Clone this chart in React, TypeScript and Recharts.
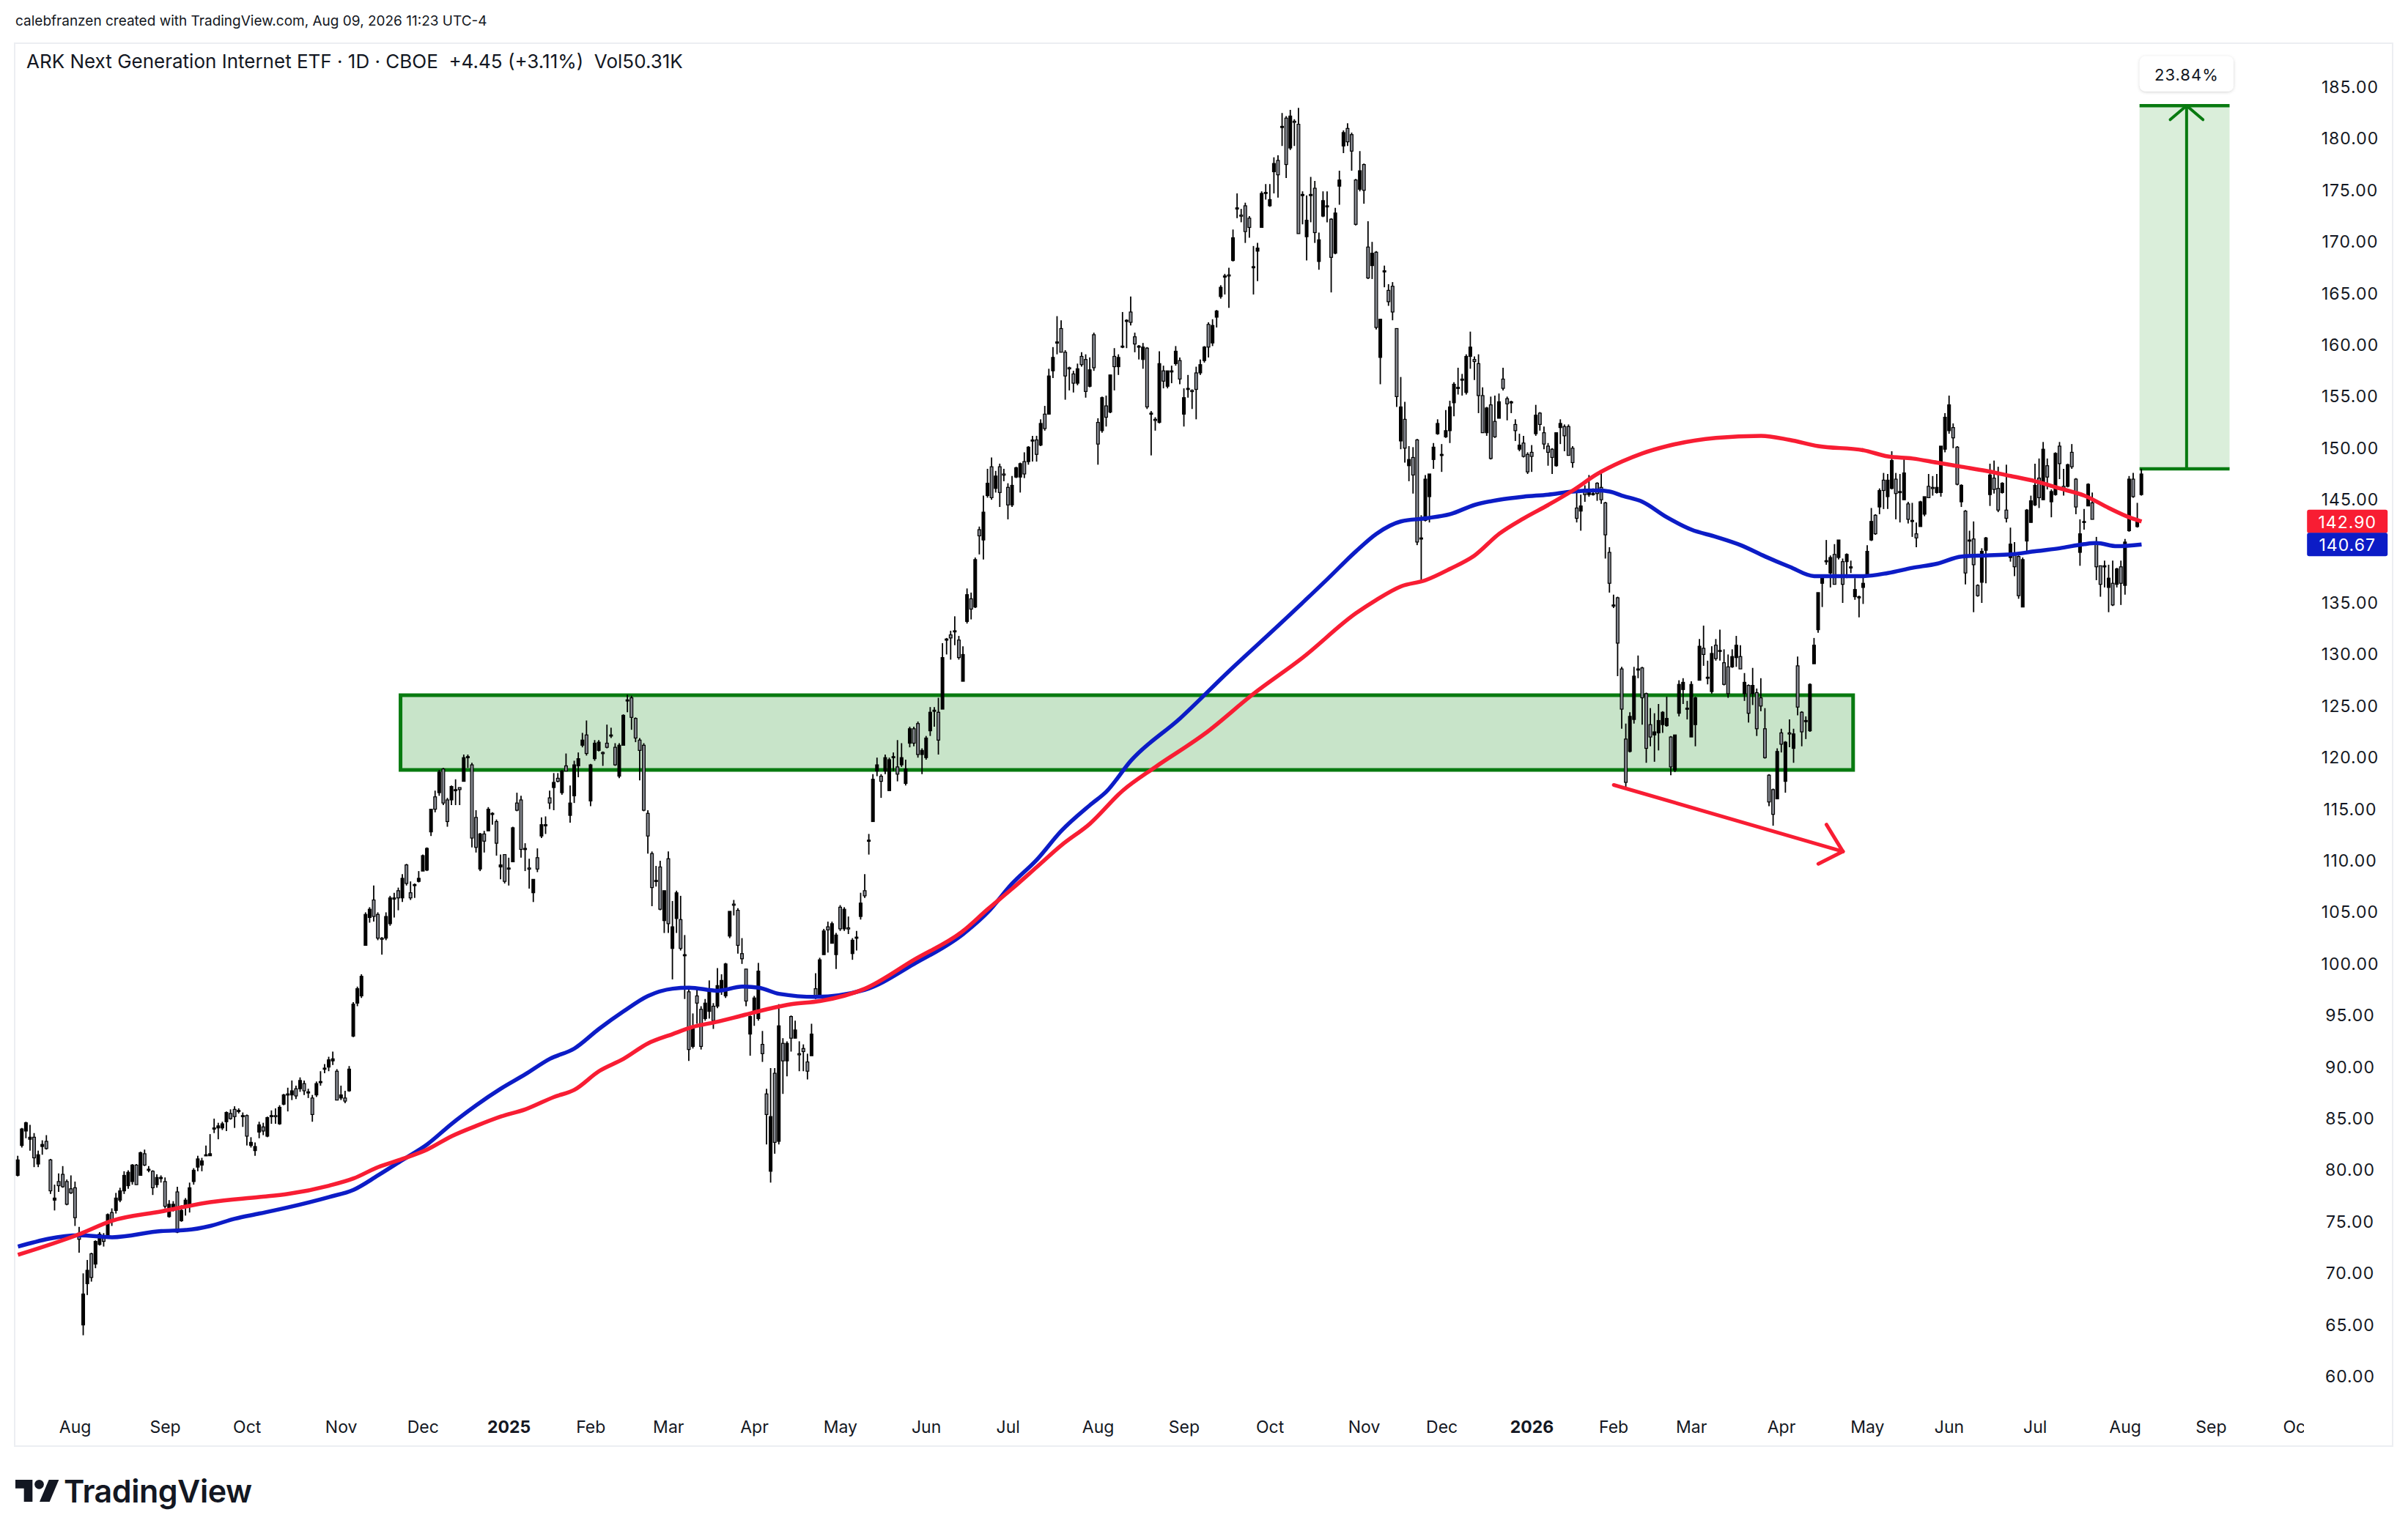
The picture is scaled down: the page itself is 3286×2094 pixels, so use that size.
import React from "react";
import {
  Bar,
  ComposedChart,
  Line,
  ReferenceArea,
  ReferenceDot,
  ReferenceLine,
  XAxis,
  YAxis,
} from "recharts";

// ---------------------------------------------------------------------------
// Data. Sessions are NYSE trading days.
// ---------------------------------------------------------------------------
const firstSession = "2024-07-12";
const sessionCount = 559; // 520 candles + empty sessions up to the price scale
const marketHolidays = [
  "2024-09-02", "2024-11-28", "2024-12-25",
  "2025-01-01", "2025-01-09", "2025-01-20", "2025-02-17", "2025-04-18", "2025-05-26",
  "2025-06-19", "2025-07-04", "2025-09-01", "2025-11-27", "2025-12-25",
  "2026-01-01", "2026-01-19", "2026-02-16", "2026-04-03", "2026-05-25", "2026-06-19",
  "2026-07-03", "2026-09-07",
];

// [open, high, low, close]
const ohlc2024 = [
  [79.5,81.4,79.4,81.0],[82.4,84.1,82.2,84.0],[83.8,84.7,83.1,84.6],[83.0,84.4,81.9,83.2],[83.2,83.6,80.3,81.2],
  [80.6,81.9,80.3,81.5],[82.3,82.9,81.5,82.5],[82.8,83.4,82.0,82.1],[81.0,81.1,77.7,78.0],[77.1,78.6,76.1,77.3],
  [78.9,79.7,77.9,78.5],[79.6,80.4,78.3,78.4],[78.9,79.1,76.6,76.7],[78.2,79.5,77.7,77.8],[78.3,78.9,74.6,75.4],
  [73.9,74.5,72.0,73.3],[65.0,70.0,64.0,68.0],[69.0,71.3,67.9,70.3],[71.9,72.0,69.2,69.6],[70.9,73.2,70.5,73.1],
  [72.8,74.0,72.7,73.8],[73.5,73.9,72.6,73.1],[73.4,75.8,73.4,75.7],[75.9,76.3,74.6,75.2],[76.1,77.8,75.8,77.3],
  [77.1,78.3,76.9,78.0],[78.0,79.9,77.7,79.5],[78.5,80.0,78.2,79.8],[78.9,80.6,78.6,80.5],[80.5,80.6,78.6,78.6],
  [79.5,81.8,79.5,81.7],[81.6,82.0,80.4,80.5],[80.0,80.4,79.8,80.1],[79.9,80.0,77.6,78.3],[78.6,79.6,78.3,79.3],
  [79.2,79.5,78.8,79.3],[78.9,79.3,76.3,76.5],[75.5,77.1,75.4,76.7],[76.3,77.0,76.0,76.7],[77.9,78.4,73.9,74.0],
  [75.1,76.6,75.0,76.1],[76.4,77.3,75.6,77.1],[76.5,78.8,75.9,78.3],[78.9,80.2,78.6,80.0],[80.3,81.4,79.9,81.1],
  [80.5,81.2,79.9,80.9],[81.4,82.4,81.4,81.5],[81.4,83.5,81.4,81.6],[84.0,85.0,83.6,84.1],[84.1,84.6,83.0,84.3],
  [84.1,84.7,83.9,84.5],[84.7,85.7,83.8,85.6],[85.5,85.9,84.9,85.0],[85.9,86.2,84.1,85.2],[85.7,86.0,85.5,85.8],
  [85.2,85.6,84.2,85.3],[85.3,85.4,82.4,83.3],[82.4,83.2,82.2,82.7],[81.9,82.7,81.4,82.3],[83.7,84.7,83.1,84.4],
  [84.2,84.6,83.4,83.8],[83.3,85.2,83.2,85.1],[85.2,85.8,84.5,85.3],[85.3,86.0,84.5,85.2],[84.5,86.3,84.4,86.1],
  [86.4,87.4,86.3,87.3],
  [87.3,88.0,85.7,87.4],[87.3,88.7,86.8,87.7],[87.9,88.2,86.9,87.2],[87.9,89.0,87.6,88.7],[88.4,88.7,87.3,87.7],
  [87.5,87.9,87.0,87.6],[87.0,87.3,84.7,85.4],[87.3,88.6,87.1,88.4],[88.5,89.6,88.2,88.6],[89.8,90.3,89.4,89.9],
  [90.0,91.0,89.6,90.7],[90.6,91.5,90.2,90.8],[89.6,89.8,86.8,86.8],[87.0,88.2,86.8,87.3],[87.0,87.7,86.5,86.7],
  [87.7,90.1,87.6,89.8],[93.0,96.3,92.9,96.1],[96.2,97.8,95.9,97.6],[96.9,99.0,96.7,98.8],[101.8,105.0,101.8,104.8],
  [104.5,105.5,104.0,105.3],[106.2,107.6,104.1,104.6],[104.8,105.0,102.3,102.5],[102.5,102.6,100.9,102.4],[102.5,105.0,102.3,104.6],
  [103.9,106.6,103.7,106.4],[106.3,106.9,104.5,106.4],[107.1,107.4,105.2,106.4],[106.4,108.7,106.0,108.3],[109.6,109.7,107.6,107.8],
  [106.9,108.0,106.2,106.4],[107.6,107.8,106.4,107.7],[108.0,109.0,107.9,108.3],[109.0,110.6,109.0,110.5],[109.1,111.3,109.0,111.2],
  [112.8,115.0,112.4,115.0],[116.2,116.8,114.7,115.0],[116.6,118.8,116.3,118.6],[118.9,119.0,115.4,115.6],[115.9,116.1,113.3,113.8],
  [115.9,117.3,115.4,117.2],[116.8,117.9,115.4,116.9],[117.1,117.1,115.4,116.9],[117.7,120.3,117.7,120.0],[120.0,120.3,119.0,120.1],
  [119.3,119.5,111.3,112.2],[114.2,114.9,110.8,111.3],[109.2,112.7,109.0,112.6],[112.6,112.9,110.8,111.9],[112.9,115.2,112.9,115.0],
  [114.5,114.7,113.5,114.6],[113.8,114.0,110.5,111.7],[109.4,110.6,108.2,109.6],[110.6,110.6,107.8,108.0],
];

const ohlc2025 = [
  [109.2,110.3,107.6,109.3],[109.9,113.3,109.9,113.2],[115.6,116.6,114.8,114.9],[115.9,116.3,110.3,111.1],[111.1,111.7,109.0,111.2],
  [109.3,110.2,107.3,109.2],[106.9,108.2,106.0,108.2],[110.3,111.2,108.9,109.2],[112.4,114.2,112.2,113.5],[113.4,114.3,112.6,113.5],
  [116.1,116.8,115.0,115.6],[117.1,118.5,114.9,117.6],[118.0,118.5,117.6,117.7],[116.6,118.8,116.4,118.7],[119.2,120.4,118.7,118.7],
  [114.4,117.3,113.7,115.6],[116.3,119.7,115.6,119.3],[119.2,120.5,118.1,119.9],[121.2,122.4,121.0,121.7],[122.2,123.6,120.2,120.4],
  [115.8,119.4,115.3,119.3],[119.9,121.7,119.7,121.4],[120.7,121.7,120.6,121.5],[120.5,120.6,119.2,120.4],[121.4,123.2,120.9,121.0],
  [122.1,122.9,121.9,122.2],[121.0,121.4,119.2,119.3],[118.2,121.4,118.0,121.2],[121.2,124.2,121.2,124.1],[125.5,126.1,124.4,125.6],
  [125.8,126.0,122.7,123.9],[123.8,123.9,121.5,121.9],[121.7,121.9,117.8,120.7],[121.2,121.4,114.8,114.9],[114.6,114.9,110.7,112.4],
  [110.7,110.9,105.6,107.4],[108.0,109.5,107.5,108.1],[109.4,110.0,105.2,105.3],[104.2,107.1,103.0,107.1],[110.2,110.9,103.0,103.9],
  [101.5,106.1,98.5,103.6],[104.4,107.1,103.0,106.9],[104.3,106.6,101.3,101.5],[100.9,102.8,96.6,100.9],[97.3,97.6,90.6,91.7],
  [92.0,95.2,91.8,93.7],[96.9,97.6,94.2,96.2],[95.6,95.9,91.7,92.0],[94.7,96.6,94.5,96.2],[95.4,98.4,94.7,97.4],
  [95.9,96.2,93.7,94.5],[95.9,99.6,95.7,97.9],[97.5,99.0,97.0,98.4],[96.9,100.1,96.7,100.0],[102.7,105.1,102.5,105.1],
  [105.8,106.2,104.7,105.7],[105.2,105.4,101.0,101.8],[101.0,102.5,100.0,100.5],[99.5,99.5,95.9,96.4],[93.2,95.0,91.1,94.9],
  [95.4,96.9,94.0,96.7],[94.7,100.1,94.5,99.3],[92.2,93.5,90.5,91.3],[87.4,87.9,82.5,85.4],[79.9,89.9,78.8,85.2],
  [89.4,89.9,81.6,82.7],[82.8,96.1,82.5,94.0],[92.3,92.8,87.4,90.6],[90.6,92.5,89.1,92.3],[94.9,95.0,91.5,92.8],
  [92.8,94.5,92.8,93.6],[91.3,92.5,89.6,91.2],[91.8,92.2,89.6,91.5],[90.5,91.3,88.8,89.6],[91.1,94.2,91.1,93.2],
  [97.6,99.1,96.6,96.9],[96.9,100.6,96.9,100.4],[100.9,103.4,100.9,103.2],[103.6,104.1,101.1,103.3],[102.0,104.1,102.0,103.9],
  [100.9,103.0,99.5,102.8],[105.5,105.7,103.2,103.4],[103.4,105.5,103.2,105.3],[103.5,104.6,102.9,103.4],[101.0,102.5,100.4,102.3],
  [102.5,103.2,101.3,102.6],[104.6,106.9,104.3,105.9],[107.1,108.7,106.4,106.6],[111.9,112.6,110.6,112.0],[113.8,118.4,113.8,117.9],
  [118.7,120.0,118.2,119.3],[118.2,118.4,116.1,117.7],[118.7,120.3,118.4,120.0],[116.8,120.0,116.8,119.8],[120.0,120.5,118.7,120.1],
  [119.1,121.7,117.7,118.4],[119.3,121.4,119.1,120.0],[117.5,119.8,117.3,118.9],[121.4,123.0,121.0,122.8],[122.8,123.0,121.1,121.4],
  [123.3,123.5,120.0,120.3],[120.3,120.9,118.4,120.7],[120.0,122.1,119.8,121.9],[122.6,124.9,122.1,124.4],[124.5,124.9,123.0,124.6],
  [124.4,125.8,120.3,121.7],[124.7,131.1,124.7,129.7],[131.4,131.6,130.0,131.5],[131.9,132.3,129.5,131.6],[132.2,133.7,130.9,132.3],
  [131.4,131.8,129.5,129.7],[127.4,130.8,127.4,130.0],[133.2,136.4,133.0,135.8],[135.4,136.0,133.4,134.4],[134.6,139.4,134.5,139.2],
  [142.1,142.4,139.7,141.5],[141.1,145.4,139.2,143.8],[145.4,148.0,145.2,146.6],[148.2,149.1,145.0,145.2],[146.1,147.8,145.7,147.3],
  [148.2,148.5,144.3,145.7],[147.5,148.0,146.8,147.4],[146.2,146.6,143.1,144.5],[144.5,147.3,144.3,146.4],[147.2,148.2,147.1,148.1],
  [147.2,148.6,145.7,148.5],[148.7,149.6,147.1,147.5],[148.7,150.2,148.4,150.1],[150.7,151.2,148.7,150.8],[150.8,151.2,148.7,149.4],
  [150.3,152.8,150.2,152.4],[153.3,154.1,151.7,151.9],[153.3,157.7,153.3,157.0],[157.5,159.8,156.8,158.8],[160.2,162.8,159.1,160.3],
  [161.6,162.4,159.3,159.3],[159.3,159.5,154.7,157.0],[157.8,157.9,155.6,157.7],[157.2,157.5,155.4,156.3],[156.3,158.2,156.1,157.7],
  [158.9,159.3,157.9,158.1],[158.6,159.1,154.9,155.5],[156.0,158.8,155.9,157.6],[161.0,161.2,157.5,157.8],[152.5,152.9,148.4,150.4],
  [151.7,155.0,151.5,154.9],[154.1,155.1,152.1,153.0],[153.5,157.1,153.4,157.1],[158.9,159.7,155.6,157.9],[157.9,159.1,157.1,158.8],
  [159.8,163.2,159.7,159.9],[162.3,162.5,159.7,162.4],[163.2,164.7,161.9,162.2],[160.8,161.2,159.3,160.1],[159.8,160.0,158.6,159.9],
  [158.6,160.2,157.7,159.8],[159.7,159.8,153.8,154.0],[153.3,153.6,149.3,153.4],[152.8,153.0,151.7,152.7],[152.5,159.4,152.4,158.2],
  [157.5,158.0,155.8,156.5],[156.0,157.5,155.8,157.5],[157.4,158.0,156.3,157.5],[158.2,159.9,158.0,159.4],[158.5,158.8,156.2,156.7],
  [153.3,155.8,152.1,154.9],[155.8,157.1,154.9,155.8],[155.6,155.7,153.8,155.5],[157.3,157.9,152.8,155.7],[157.3,158.6,157.1,158.1],
  [158.5,159.9,158.3,159.8],[162.0,162.2,158.8,159.8],[160.2,162.5,159.9,161.9],[162.7,163.4,161.7,163.3],[164.7,165.8,164.5,165.6],
  [166.6,166.9,164.9,166.7],[166.8,167.5,163.6,166.7],[168.2,171.2,168.1,170.4],[173.2,174.7,172.3,173.3],[172.6,173.2,171.9,172.5],
  [173.5,173.8,169.9,171.0],[172.3,172.5,170.4,171.4],[167.5,169.6,164.9,167.6],[169.1,169.9,166.2,169.4],[171.4,174.9,171.4,174.7],
  [174.7,175.6,174.1,174.8],[173.5,175.6,173.4,174.1],[176.8,178.2,174.7,177.6],[177.9,178.4,174.3,176.5],[181.1,182.5,179.3,181.2],
  [182.0,182.2,176.2,177.5],[179.1,182.8,178.9,182.2],[181.7,181.9,179.3,181.6],[181.4,183.0,170.8,170.8],[174.6,174.9,171.7,174.6],
  [170.5,174.5,168.2,172.1],[174.5,176.3,171.9,174.6],[175.2,175.9,169.9,170.9],[168.1,170.9,167.3,170.2],[172.5,174.9,172.4,174.0],
  [173.4,174.9,171.9,173.5],[172.2,172.3,165.1,168.5],[168.9,173.3,168.8,172.8],[175.4,176.9,173.6,176.0],[179.3,180.8,178.6,180.6],
  [181.0,181.5,179.3,179.7],[180.4,180.6,176.9,178.8],[176.0,176.1,171.6,171.7],[175.1,178.8,174.9,176.9],[177.5,177.6,173.7,175.0],
  [169.5,172.0,166.4,166.5],[167.7,170.0,166.4,168.9],[169.0,169.1,161.5,161.7],[158.8,162.5,156.2,162.5],[167.2,167.7,165.6,167.2],
  [165.3,165.9,163.8,164.2],[165.7,166.1,162.4,163.2],[161.6,161.6,154.0,155.0],[150.7,156.9,149.9,154.0],[152.8,154.5,148.6,150.0],
  [148.3,150.2,146.8,148.9],[149.1,150.1,145.6,147.4],[150.8,150.9,140.6,140.9],[141.2,143.5,137.2,141.3],[143.0,147.4,142.9,147.0],
  [145.3,147.5,142.8,147.5],[148.9,150.5,148.0,150.1],[151.4,152.8,151.3,152.4],[149.4,150.4,147.7,149.4],[151.1,153.7,151.0,151.7],
  [151.7,154.6,150.5,154.0],[154.4,156.4,153.1,156.2],[155.8,157.8,155.2,155.9],[156.7,157.2,155.1,156.7],[155.4,159.1,155.2,158.9],
  [158.9,161.3,157.7,159.8],[158.6,158.9,156.6,158.4],[158.2,159.1,153.4,155.1],[155.1,155.9,151.5,151.5],[151.5,154.0,151.2,153.9],
  [154.2,155.0,148.9,149.0],[152.6,155.1,151.0,151.1],[152.9,155.3,152.9,154.5],[156.7,157.8,155.6,155.8],[154.8,155.0,152.7,154.3],
  [154.5,154.6,153.4,154.5],[152.3,152.8,150.7,151.7],[149.9,151.4,149.7,150.3],[150.5,151.2,149.1,149.2],[149.4,149.6,147.5,147.7],
];

const ohlc2026 = [
  [149.6,150.3,147.7,149.2],[151.4,154.2,151.2,153.2],[153.4,153.5,151.7,152.3],[151.5,152.1,149.9,150.4],[150.2,150.5,148.3,149.6],
  [149.9,150.0,147.5,149.1],[148.3,151.5,148.2,151.5],[152.0,152.8,150.4,152.4],[152.1,152.3,149.7,151.2],[152.1,152.3,149.3,149.3],
  [150.0,150.2,148.1,148.6],[144.2,145.9,142.8,143.2],[143.9,145.5,142.0,144.4],[146.0,146.4,144.8,145.5],[145.5,147.4,145.3,145.9],
  [145.5,146.1,145.4,145.6],[146.6,146.7,144.9,145.6],[146.2,147.6,144.6,145.0],[144.7,144.8,139.3,141.6],[139.9,140.4,136.0,136.9],
  [134.7,135.8,134.5,134.8],[135.5,135.6,127.9,131.1],[128.6,128.8,122.8,124.7],[121.8,123.3,116.9,117.6],[120.6,124.4,120.5,124.0],
  [123.7,128.8,123.3,127.9],[128.6,129.9,127.7,128.6],[128.7,128.8,123.2,125.8],[126.2,126.3,119.5,120.9],[123.2,124.8,121.1,122.0],
  [122.2,124.3,119.6,122.5],[122.4,125.2,120.7,123.6],[123.2,124.5,122.4,124.4],[123.1,125.9,123.0,123.8],[122.0,122.1,118.3,119.1],
  [118.8,122.2,118.6,122.2],[124.3,127.5,124.0,127.1],[126.6,127.7,125.2,127.3],[124.8,125.5,123.7,124.8],[122.0,127.4,122.0,127.1],
  [123.2,125.9,121.1,125.8],[127.5,131.5,127.5,130.8],[130.6,132.8,128.9,130.0],[127.8,129.4,127.1,127.8],[126.4,130.8,126.2,130.1],
  [130.9,131.5,129.4,129.6],[130.4,132.4,129.4,130.4],[129.2,130.5,127.0,127.1],[128.8,130.0,125.8,126.2],[128.8,130.5,128.7,129.8],
  [129.7,131.8,128.8,130.9],[129.8,130.9,128.6,128.6],[126.2,128.2,125.5,127.3],[127.0,127.1,123.4,124.3],[126.2,128.7,125.1,127.0],
  [126.3,126.7,122.1,122.8],[125.8,127.7,124.5,125.0],[122.8,124.8,119.9,120.0],[118.3,118.4,115.3,115.7],[116.9,117.0,113.4,114.5],
  [116.0,120.9,116.0,120.6],[122.4,122.8,120.5,121.3],[117.7,121.6,116.6,121.5],[122.4,123.7,121.0,122.3],[120.9,122.8,119.5,122.3],
  [128.9,129.8,124.1,124.9],[124.4,124.5,121.1,122.5],[123.6,124.0,121.8,123.6],[122.6,127.2,122.5,127.1],[129.1,131.6,129.1,130.9],
  [132.4,136.0,132.1,136.0],[136.9,137.7,134.6,137.6],[139.1,141.1,138.7,139.1],[137.9,139.6,136.5,139.4],[139.7,140.7,136.8,136.8],
  [139.4,141.1,139.2,141.1],[139.0,139.3,135.0,136.8],[139.0,139.8,137.4,139.7],[138.5,139.1,137.9,138.5],[135.6,137.4,135.3,136.3],
  [135.6,135.7,133.6,135.6],[136.5,137.7,134.9,136.9],[137.7,140.6,137.6,140.0],[141.1,144.2,141.0,142.9],[143.5,143.6,141.6,141.7],
  [144.3,146.1,143.6,145.9],[146.9,147.6,144.1,145.9],[145.3,147.5,144.1,146.9],[146.1,149.7,146.0,148.8],[147.0,147.6,143.1,145.6],
  [145.8,147.5,142.8,145.8],[145.0,149.1,145.0,147.6],[144.6,144.8,142.7,143.1],[143.0,144.7,141.4,143.0],[141.7,142.8,140.4,141.3],
  [142.4,144.9,142.4,144.8],[143.6,145.3,143.4,145.3],[146.3,147.5,145.2,145.2],[146.2,147.3,145.4,146.1],[145.7,147.5,145.6,146.2],
  [145.7,150.2,145.3,150.2],[149.9,153.4,149.6,153.0],[151.7,155.1,151.4,154.2],[152.0,152.4,150.0,151.0],[150.1,150.2,146.4,146.5],
  [144.8,146.5,144.3,146.4],[143.9,144.0,136.8,137.9],[141.1,142.0,139.5,141.1],[141.2,142.9,134.1,138.7],[136.7,136.8,135.6,135.7],
  [137.0,140.3,135.0,140.0],[140.1,141.4,136.9,141.3],[145.5,148.5,144.4,147.4],[147.1,148.8,145.6,146.0],[146.1,148.2,143.8,144.0],
  [145.7,146.7,145.6,146.6],[144.0,148.4,142.8,143.2],[139.4,142.3,139.0,140.7],[139.7,140.9,137.6,138.5],[139.5,139.6,135.4,135.7],
  [134.6,139.4,134.6,139.2],[141.0,144.1,139.9,144.0],[142.8,145.4,142.8,144.9],[144.5,148.5,144.4,146.4],[147.1,149.0,144.2,145.2],
  [145.0,150.6,145.0,149.9],[148.3,149.0,146.0,147.2],[144.8,146.0,143.3,145.8],[145.5,149.6,145.4,149.5],[150.2,150.6,147.0,148.5],
  [146.3,148.0,145.4,146.0],[146.3,148.5,146.2,148.4],[149.6,150.4,148.0,148.2],[147.0,147.1,143.6,144.3],[139.9,143.1,138.6,141.7],
  [142.9,144.1,142.1,142.9],[144.4,146.6,144.4,146.5],[144.7,145.7,143.1,143.1],[140.7,141.4,137.2,138.5],[138.6,138.6,135.6,136.8],
  [138.6,139.1,136.5,138.6],[136.5,138.7,134.1,137.4],[136.9,139.1,134.7,134.8],[136.8,138.4,136.5,138.3],[138.5,139.1,134.8,136.9],
  [136.7,141.2,135.8,140.9],[142.0,147.3,141.9,147.0],[147.0,147.6,145.2,145.3],[142.4,144.7,142.3,143.05],[145.5,148.0,145.4,147.5],
];

// moving averages, [session index, value]
const redMaPoints = [
  [0,71.8],[15,73.8],[23,75.1],[35,76.0],[47,76.9],[59,77.4],[66,77.7],[76,78.5],[82,79.2],[88,80.3],
  [94,81.1],[100,82.0],[106,83.3],[112,84.3],[118,85.2],[124,85.9],[131,87.1],[136,87.8],[142,89.6],[148,90.8],
  [154,92.3],[160,93.2],[165,93.9],[171,94.4],[177,95.0],[183,95.6],[189,96.1],[196,96.4],[207,97.6],[219,100.4],
  [231,103.2],[237,105.3],[243,107.3],[249,109.4],[255,111.5],[262,113.6],[270,116.8],[278,119.1],[290,122.3],[302,126.2],
  [314,129.7],[327,134.0],[332,135.3],[338,136.6],[344,137.2],[350,138.3],[356,139.6],[362,141.7],[368,143.2],[374,144.5],
  [380,145.9],[386,147.5],[392,148.7],[397,149.5],[403,150.2],[415,151.0],[426,151.2],[433,150.8],[440,150.2],[451,149.8],
  [457,149.2],[463,149.0],[469,148.6],[475,148.2],[481,147.8],[487,147.3],[493,146.8],[499,146.1],[505,145.4],[511,144.2],
  [516,143.3],[519,142.9],
];
const blueMaPoints = [
  [0,72.6],[15,73.7],[23,73.5],[35,74.1],[41,74.2],[47,74.6],[53,75.3],[59,75.8],[66,76.4],[76,77.4],
  [82,78.1],[88,79.5],[94,81.0],[100,82.5],[106,84.5],[112,86.3],[118,87.9],[124,89.3],[130,90.8],[136,91.8],
  [142,93.7],[148,95.4],[154,96.9],[160,97.6],[164,97.7],[171,97.4],[177,97.8],[181,97.7],[186,97.1],[195,96.8],
  [207,97.5],[219,100.0],[231,102.9],[237,105.0],[243,107.8],[249,110.1],[255,112.9],[262,115.4],[266,116.7],[272,119.7],
  [284,123.8],[296,128.4],[308,132.8],[320,137.3],[327,140.0],[332,141.7],[338,142.9],[344,143.2],[350,143.6],[356,144.5],
  [362,145.0],[368,145.3],[374,145.5],[380,145.8],[386,145.9],[389,145.8],[392,145.4],[397,144.8],[403,143.3],[409,142.1],
  [415,141.4],[421,140.6],[427,139.5],[433,138.5],[439,137.6],[445,137.6],[451,137.6],[457,137.9],[463,138.4],[469,138.8],
  [475,139.5],[481,139.6],[487,139.7],[493,140.0],[499,140.3],[505,140.7],[508,140.8],[513,140.5],[519,140.67],
];

const priceTicks = [60, 65, 70, 75, 80, 85, 90, 95, 100, 105, 110, 115, 120, 125, 130, 135, 140, 145, 150, 155, 160, 165, 170, 175, 180, 185];
const monthNames = ["Jan", "Feb", "Mar", "Apr", "May", "Jun", "Jul", "Aug", "Sep", "Oct", "Nov", "Dec"];

// drawings (session indices + prices)
const supportZone = { from: 94, to: 448, low: 118.8, high: 126.05 };
const divergenceArrow = { start: [390, 117.35], tip: [446, 110.9], wingUp: [442, 113.5], wingDown: [440, 109.7] };
const targetMove = { from: 519, to: 540, mid: 530, base: 148.0, target: 183.2, label: "23.84%" };
const lastRed = 142.9;
const lastBlue = 140.67;

// ---------------------------------------------------------------------------
const FONT = "Inter, 'Noto Sans', Roboto, sans-serif";
const TEXT = "#131722";
const RED = "#f81d33";
const BLUE = "#0c1cc6";
const GREEN = "#087a10";

function buildSessions(start: string, count: number) {
  const closed = new Set(marketHolidays);
  const out: string[] = [];
  const d = new Date(start + "T00:00:00Z");
  while (out.length < count) {
    const wd = d.getUTCDay();
    const iso = d.toISOString().slice(0, 10);
    if (wd !== 0 && wd !== 6 && !closed.has(iso)) out.push(iso);
    d.setUTCDate(d.getUTCDate() + 1);
  }
  return out;
}

const sessions = buildSessions(firstSession, sessionCount);
const candles = [...ohlc2024, ...ohlc2025, ...ohlc2026];

const rows: any[] = sessions.map((date, i) => {
  const k = candles[i];
  return {
    date,
    o: k ? k[0] : null,
    h: k ? k[1] : null,
    l: k ? k[2] : null,
    c: k ? k[3] : null,
    red: null,
    blue: null,
  };
});
redMaPoints.forEach(([i, v]) => (rows[i].red = v));
blueMaPoints.forEach(([i, v]) => (rows[i].blue = v));

const monthTicks = sessions.filter((d, i) => i > 0 && d.slice(5, 7) !== sessions[i - 1].slice(5, 7));

const candleRange = (r: any) => (r.h == null ? null : [r.l, r.h]);

function CandleShape(props: any) {
  const { x, y, width, height, payload } = props;
  if (!payload || payload.h == null || !Number.isFinite(y) || !Number.isFinite(height)) return <g />;
  const { o, h, l, c } = payload;
  const top = Math.min(y, y + height);
  const span = Math.abs(height);
  const unit = h > l ? span / (h - l) : 0;
  const yOf = (v: number) => top + (h - v) * unit;
  const cx = x + width / 2;
  const bodyTop = yOf(Math.max(o, c));
  const bodyH = Math.max(yOf(Math.min(o, c)) - bodyTop, 1.6);
  const up = c >= o;
  return (
    <g>
      <line x1={cx} x2={cx} y1={top} y2={top + span} stroke="#000" strokeWidth={1.8} />
      <rect
        x={x + 0.6}
        y={bodyTop}
        width={Math.max(width - 1.2, 1)}
        height={bodyH}
        fill={up ? "#000" : "#868991"}
        stroke="#000"
        strokeWidth={1.2}
      />
    </g>
  );
}

function MonthTick(props: any) {
  const { x, y, payload, index } = props;
  const d: string = payload.value;
  const m = Number(d.slice(5, 7));
  const isYear = m === 1;
  const id = `tclip${index}`;
  return (
    <g>
      <defs>
        <clipPath id={id}>
          <rect x={0} y={y} width={3144} height={60} />
        </clipPath>
      </defs>
      <text
        x={x}
        y={y + 28}
        textAnchor="middle"
        dominantBaseline="central"
        fontFamily={FONT}
        fontSize={23}
        fontWeight={isYear ? 700 : 400}
        fill={TEXT}
        clipPath={`url(#${id})`}
      >
        {isYear ? d.slice(0, 4) : monthNames[m - 1]}
      </text>
    </g>
  );
}

// the 140.00 label sits under the blue last-value flag, as in TradingView
const coveredTicks = [140];

function PriceTick(props: any) {
  const { x, y, payload } = props;
  if (coveredTicks.includes(Number(payload.value))) return <g />;
  return (
    <text
      x={x + 64}
      y={y}
      textAnchor="middle"
      dominantBaseline="central"
      fontFamily={FONT}
      fontSize={23}
      letterSpacing={1}
      fill={TEXT}
    >
      {Number(payload.value).toFixed(2)}
    </text>
  );
}

const priceFlag = (color: string, value: number) => (p: any) => (
  <g>
    <rect x={p.cx + 8} y={p.cy - 16} width={110} height={32} rx={3} fill={color} />
    <text
      x={p.cx + 63}
      y={p.cy + 1}
      textAnchor="middle"
      dominantBaseline="central"
      fontFamily={FONT}
      fontSize={23}
      letterSpacing={1}
      fill="#fff"
    >
      {value.toFixed(2)}
    </text>
  </g>
);

function MoveLabel(p: any) {
  return (
    <g>
      <defs>
        <filter id="lblShadow" x="-20%" y="-30%" width="140%" height="160%">
          <feDropShadow dx="0" dy="1" stdDeviation="2" floodColor="#000" floodOpacity="0.18" />
        </filter>
      </defs>
      <rect x={p.cx - 64} y={p.cy - 24} width={128} height={48} rx={8} fill="#fff" filter="url(#lblShadow)" />
      <text
        x={p.cx}
        y={p.cy + 1}
        textAnchor="middle"
        dominantBaseline="central"
        fontFamily={FONT}
        fontSize={22}
        letterSpacing={1}
        fill={TEXT}
      >
        {targetMove.label}
      </text>
    </g>
  );
}

function TvLogo() {
  return (
    <div style={{ position: "absolute", left: 21, top: 2009, display: "flex", alignItems: "center", gap: 6 }}>
      <svg width={60} height={30} viewBox="0 4 36 18">
        <path d="M14 22H7V11H0V4h14v18z" fill={TEXT} />
        <circle cx={19.5} cy={7.8} r={3.8} fill={TEXT} />
        <path d="M28 22h-8.2l7.6-18h8.2L28 22z" fill={TEXT} />
      </svg>
      <span style={{ fontFamily: FONT, fontSize: 43, fontWeight: 600, color: TEXT, letterSpacing: -0.5 }}>TradingView</span>
    </div>
  );
}

export default function App() {
  const s = (i: number) => sessions[i];
  return (
    <div style={{ position: "absolute", left: 0, top: 0, width: 3286, height: 2094, background: "#fff", overflow: "hidden" }}>
      <div
        style={{
          position: "absolute",
          left: 21,
          top: 17,
          fontFamily: FONT,
          fontSize: 19,
          lineHeight: "24px",
          color: TEXT,
          whiteSpace: "pre",
        }}
      >
        calebfranzen created with TradingView.com, Aug 09, 2026 11:23 UTC-4
      </div>

      <ComposedChart
        width={3286}
        height={2094}
        data={rows}
        margin={{ top: 59, right: 21, bottom: 120, left: 21.7 }}
        barCategoryGap={0}
        style={{ position: "absolute", left: 0, top: 0 }}
      >
        <XAxis
          dataKey="date"
          ticks={monthTicks}
          interval={0}
          tick={<MonthTick />}
          tickSize={0}
          tickMargin={0}
          axisLine={false}
          tickLine={false}
          height={54}
        />
        <YAxis
          orientation="right"
          type="number"
          domain={[57.09, 189.26]}
          allowDataOverflow
          ticks={priceTicks}
          tick={<PriceTick />}
          tickSize={0}
          tickMargin={0}
          axisLine={false}
          tickLine={false}
          width={122}
        />

        <ReferenceArea
          x1={s(supportZone.from)}
          x2={s(supportZone.to)}
          y1={supportZone.low}
          y2={supportZone.high}
          fill="#c8e4c9"
          fillOpacity={1}
          stroke={GREEN}
          strokeWidth={5}
        />
        <ReferenceArea
          x1={s(targetMove.from)}
          x2={s(targetMove.to)}
          y1={targetMove.base}
          y2={targetMove.target}
          fill="#daeeda"
          fillOpacity={1}
        />
        <ReferenceArea
          x1={s(targetMove.from)}
          x2={s(targetMove.to)}
          y1={targetMove.base - 0.16}
          y2={targetMove.base + 0.16}
          fill={GREEN}
          fillOpacity={1}
        />
        <ReferenceArea
          x1={s(targetMove.from)}
          x2={s(targetMove.to)}
          y1={targetMove.target - 0.16}
          y2={targetMove.target + 0.16}
          fill={GREEN}
          fillOpacity={1}
        />

        <Bar dataKey={candleRange} shape={CandleShape} barSize={5} isAnimationActive={false} />

        <Line
          dataKey="blue"
          type="monotone"
          stroke={BLUE}
          strokeWidth={5.5}
          dot={false}
          activeDot={false}
          connectNulls
          isAnimationActive={false}
        />
        <Line
          dataKey="red"
          type="monotone"
          stroke={RED}
          strokeWidth={5.5}
          dot={false}
          activeDot={false}
          connectNulls
          isAnimationActive={false}
        />

        <ReferenceLine
          segment={[
            { x: s(divergenceArrow.start[0]), y: divergenceArrow.start[1] },
            { x: s(divergenceArrow.tip[0]), y: divergenceArrow.tip[1] },
          ]}
          stroke={RED}
          strokeWidth={5}
          strokeLinecap="round"
        />
        <ReferenceLine
          segment={[
            { x: s(divergenceArrow.wingUp[0]), y: divergenceArrow.wingUp[1] },
            { x: s(divergenceArrow.tip[0]), y: divergenceArrow.tip[1] },
          ]}
          stroke={RED}
          strokeWidth={5}
          strokeLinecap="round"
        />
        <ReferenceLine
          segment={[
            { x: s(divergenceArrow.wingDown[0]), y: divergenceArrow.wingDown[1] },
            { x: s(divergenceArrow.tip[0]), y: divergenceArrow.tip[1] },
          ]}
          stroke={RED}
          strokeWidth={5}
          strokeLinecap="round"
        />

        <ReferenceLine
          segment={[
            { x: s(targetMove.mid), y: targetMove.base },
            { x: s(targetMove.mid), y: targetMove.target },
          ]}
          stroke={GREEN}
          strokeWidth={4}
        />
        <ReferenceLine
          segment={[
            { x: s(targetMove.mid - 4), y: targetMove.target - 1.35 },
            { x: s(targetMove.mid), y: targetMove.target },
          ]}
          stroke={GREEN}
          strokeWidth={4}
          strokeLinecap="round"
        />
        <ReferenceLine
          segment={[
            { x: s(targetMove.mid + 4), y: targetMove.target - 1.35 },
            { x: s(targetMove.mid), y: targetMove.target },
          ]}
          stroke={GREEN}
          strokeWidth={4}
          strokeLinecap="round"
        />

        <ReferenceDot x={s(targetMove.mid)} y={186.3} shape={MoveLabel} />
        <ReferenceDot x={s(sessionCount - 1)} y={lastRed} shape={priceFlag(RED, lastRed)} />
        <ReferenceDot x={s(sessionCount - 1)} y={lastBlue} shape={priceFlag(BLUE, lastBlue)} />
      </ComposedChart>

      <div
        style={{
          position: "absolute",
          left: 36,
          top: 69,
          fontFamily: FONT,
          fontSize: 26,
          lineHeight: "30px",
          color: TEXT,
          whiteSpace: "pre",
        }}
      >
        {"ARK Next Generation Internet ETF · 1D · CBOE  +4.45 (+3.11%)  Vol50.31K"}
      </div>

      <div
        style={{
          position: "absolute",
          left: 19,
          top: 58,
          width: 3247,
          height: 1917,
          border: "2px solid #eceef2",
          boxSizing: "border-box",
          pointerEvents: "none",
        }}
      />

      <TvLogo />
    </div>
  );
}
